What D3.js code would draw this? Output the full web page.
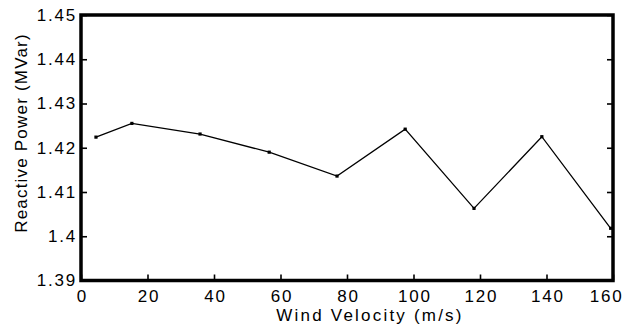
<!DOCTYPE html>
<html>
<head>
<meta charset="utf-8">
<script src="https://cdn.jsdelivr.net/npm/d3@7"></script>
<style>
  html, body { margin: 0; padding: 0; background: #fff; }
  svg { display: block; }
  text { font-family: "Liberation Sans", Arial, sans-serif; fill: #000; }
</style>
</head>
<body>
<svg id="chart" width="623" height="334"></svg>
<script>
// Reactive power output against wind velocity
const windVelocity = [4.5, 15.3, 35.8, 56.6, 77, 97.5, 118.2, 138.6, 159.3];
const reactivePower = [1.4224, 1.4255, 1.4231, 1.4190, 1.4136, 1.4242, 1.4063, 1.4225, 1.4018];
const xTicks = [0, 20, 40, 60, 80, 100, 120, 140, 160];
const yTicks = [1.39, 1.40, 1.41, 1.42, 1.43, 1.44, 1.45];
const xTitle = "Wind Velocity (m/s)";
const yTitle = "Reactive Power (MVar)";

const svg = d3.select("#chart");
const plotLeft = 81, plotRight = 613, plotTop = 15, plotBottom = 280.5;

const x = d3.scaleLinear().domain([0, 160]).range([plotLeft, plotRight]);
const y = d3.scaleLinear().domain([1.39, 1.45]).range([plotBottom, plotTop]);

const fmt = d => String(+d.toFixed(2));

// bottom axis, ticks pointing inward
const gx = svg.append("g")
  .attr("transform", `translate(0,${plotBottom})`)
  .call(d3.axisBottom(x).tickValues(xTicks).tickSize(-6).tickPadding(9.5).tickFormat(d => String(d)));
gx.select(".domain").remove();
gx.selectAll(".tick line").attr("stroke", "#000").attr("stroke-width", 1.6);
gx.selectAll(".tick text")
  .style("font-size", "17px")
  .style("letter-spacing", "1.8px")
  .attr("dx", "0.9px");
// keep the last label inside the frame
gx.selectAll(".tick text").filter(d => d === 160)
  .attr("text-anchor", "end").attr("dx", "10px");

// left axis
const gy = svg.append("g")
  .attr("transform", `translate(${plotLeft},0)`)
  .call(d3.axisLeft(y).tickValues(yTicks).tickSize(-6).tickPadding(4).tickFormat(fmt));
gy.select(".domain").remove();
gy.selectAll(".tick line").attr("stroke", "#000").attr("stroke-width", 1.6);
gy.selectAll(".tick text")
  .style("font-size", "17px")
  .style("letter-spacing", "1.8px");

// right axis, ticks only
const gr = svg.append("g")
  .attr("transform", `translate(${plotRight},0)`)
  .call(d3.axisRight(y).tickValues(yTicks).tickSize(-6).tickFormat(""));
gr.select(".domain").remove();
gr.selectAll(".tick line").attr("stroke", "#000").attr("stroke-width", 1.6);

// frame
svg.append("rect")
  .attr("x", plotLeft).attr("y", plotTop)
  .attr("width", plotRight - plotLeft).attr("height", plotBottom - plotTop)
  .attr("fill", "none").attr("stroke", "#000").attr("stroke-width", 3.5);

// data line
const line = d3.line().x(d => x(d[0])).y(d => y(d[1]));
const pts = windVelocity.map((v, i) => [v, reactivePower[i]]);
svg.append("path")
  .datum(pts)
  .attr("d", line)
  .attr("fill", "none")
  .attr("stroke", "#000")
  .attr("stroke-width", 1.3);

svg.append("g").selectAll("rect")
  .data(pts)
  .join("rect")
  .attr("x", d => x(d[0]) - 1.6)
  .attr("y", d => y(d[1]) - 1.6)
  .attr("width", 3.2).attr("height", 3.2)
  .attr("fill", "#000");

// axis titles
svg.append("text")
  .attr("x", 370).attr("y", 321)
  .attr("text-anchor", "middle")
  .style("font-size", "17px")
  .style("letter-spacing", "2.2px")
  .text(xTitle);

svg.append("text")
  .attr("transform", "translate(27,133) rotate(-90)")
  .attr("text-anchor", "middle")
  .style("font-size", "17px")
  .style("letter-spacing", "1.2px")
  .text(yTitle);
</script>
</body>
</html>
